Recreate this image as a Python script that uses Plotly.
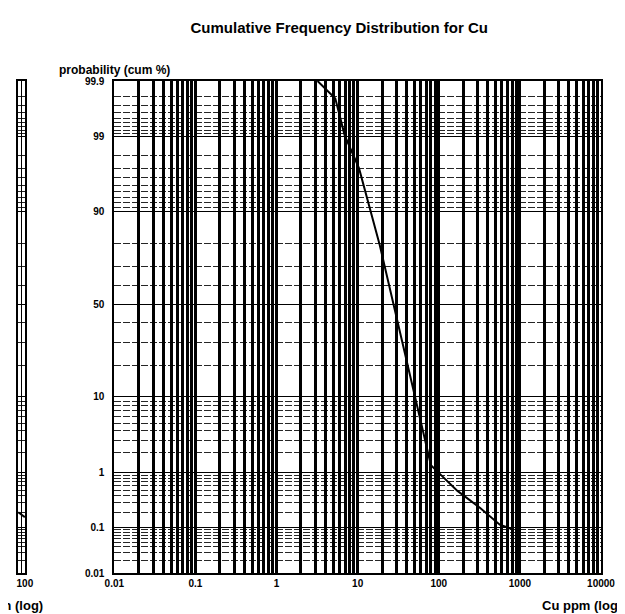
import plotly.graph_objects as go
from statistics import NormalDist

# ---------------- data ----------------
cu_ppm = [3.2, 5.3, 6.9, 10.4, 18.7, 27.5, 35.6, 48, 66, 80, 106, 170, 324, 565, 850]
cum_pct = [99.9, 99.78, 99.04, 97.0, 79.4, 50, 30, 12.4, 3.2, 1.3, 0.91, 0.49, 0.24, 0.114, 0.09]

left_ppm = [80, 100]
left_pct = [0.2, 0.16]

y_major = [0.01, 0.1, 1, 10, 50, 90, 99, 99.9]
y_major_labels = ["0.01", "0.1", "1", "10", "50", "90", "99", "99.9"]
y_minor = ([0.02, 0.03, 0.04, 0.05, 0.06, 0.07, 0.08, 0.09]
           + [0.2, 0.3, 0.4, 0.5, 0.6, 0.7, 0.8, 0.9]
           + [2, 3, 4, 5, 6, 7, 8, 9]
           + [20, 30, 40, 60, 70, 80]
           + [91, 92, 93, 94, 95, 96, 97, 98]
           + [99.1, 99.2, 99.3, 99.4, 99.5, 99.6, 99.7, 99.8])

x_major = [0.01, 0.1, 1, 10, 100, 1000, 10000]
x_major_labels = ["0.01", "0.1", "1", "10", "100", "1000", "10000"]
x_minor_mult = [2, 3, 4, 5, 6, 7, 8, 9]
x_minor_decades = [0.01, 0.1, 1, 10, 100, 1000]

title_text = "Cumulative Frequency Distribution for Cu"
y_title = "probability (cum %)"
x_title = "Cu ppm (log)"

# ---------------- helpers ----------------
nd = NormalDist()


def probit(p):
    return nd.inv_cdf(p / 100.0)


x_minor = [m * d for d in x_minor_decades for m in x_minor_mult]

FONT = "Liberation Sans Narrow, Liberation Sans, Arial Narrow, Arial, sans-serif"

W, H = 625, 614
L, R, T, B = 98, 593, 73, 565

fig = go.Figure()
fig.add_trace(go.Scatter(
    x=cu_ppm, y=[probit(p) for p in cum_pct],
    mode="lines", line=dict(color="black", width=2),
    xaxis="x", yaxis="y", showlegend=False, hoverinfo="skip"))
fig.add_trace(go.Scatter(
    x=left_ppm, y=[probit(p) for p in left_pct],
    mode="lines", line=dict(color="black", width=2),
    xaxis="x2", yaxis="y", showlegend=False, hoverinfo="skip"))

tickfont = dict(family=FONT, size=10, color="black", weight="bold")

fig.update_layout(
    width=W, height=H,
    margin=dict(l=0, r=W - R, t=T, b=H - B),
    paper_bgcolor="white", plot_bgcolor="white",
    title=dict(text=title_text, x=0.53, xanchor="center",
               y=1 - 20 / H, yanchor="middle",
               font=dict(family=FONT, size=15, color="black", weight="bold")),
    xaxis=dict(
        type="log", domain=[L / R, 1.0], anchor="y", range=[-2, 4],
        showline=True, linecolor="black", linewidth=2, mirror=True,
        showgrid=True, gridcolor="black", gridwidth=3,
        minor=dict(tickmode="array", tickvals=x_minor, showgrid=True,
                   gridcolor="black", gridwidth=2.5, ticks=""),
        tickmode="array", tickvals=x_major, ticktext=x_major_labels,
        ticks="", zeroline=False, tickfont=tickfont),
    xaxis2=dict(
        type="log", domain=[0, 7 / R], anchor="y", range=[1.9, 2],
        showline=True, linecolor="black", linewidth=2, mirror=True,
        showgrid=True, gridcolor="black", gridwidth=1,
        minor=dict(tickmode="array", tickvals=[90], showgrid=True,
                   gridcolor="black", gridwidth=1, ticks=""),
        tickmode="array", tickvals=[100], ticktext=["100"],
        ticks="", zeroline=False, tickfont=tickfont),
    yaxis=dict(
        range=[probit(0.01), probit(99.9)], domain=[0, 1], anchor="x",
        showline=True, linecolor="black", linewidth=2, mirror="all",
        tickmode="array", tickvals=[probit(p) for p in y_major],
        ticktext=y_major_labels, ticks="", ticklabelstandoff=6,
        showgrid=True, gridcolor="black", gridwidth=1.3, zeroline=False,
        minor=dict(tickmode="array", tickvals=[probit(p) for p in y_minor],
                   showgrid=True, gridcolor="rgba(0,0,0,0.85)", gridwidth=1,
                   griddash="7px,2px", ticks=""),
        tickfont=tickfont,
    ),
    annotations=[
        dict(text=y_title, xref="paper", yref="paper",
             x=L / R, y=1 + 11 / (B - T), xanchor="center", yanchor="middle",
             showarrow=False,
             font=dict(family=FONT, size=12, color="black", weight="bold")),
        dict(text=x_title, xref="paper", yref="paper",
             x=616 / R, y=-32 / (B - T), xanchor="right", yanchor="middle",
             showarrow=False,
             font=dict(family=FONT, size=13, color="black", weight="bold")),
        dict(text=x_title, xref="paper", yref="paper",
             x=27 / R, y=-32 / (B - T), xanchor="right", yanchor="middle",
             showarrow=False,
             font=dict(family=FONT, size=13, color="black", weight="bold")),
    ],
)

fig.write_html("out.html")
